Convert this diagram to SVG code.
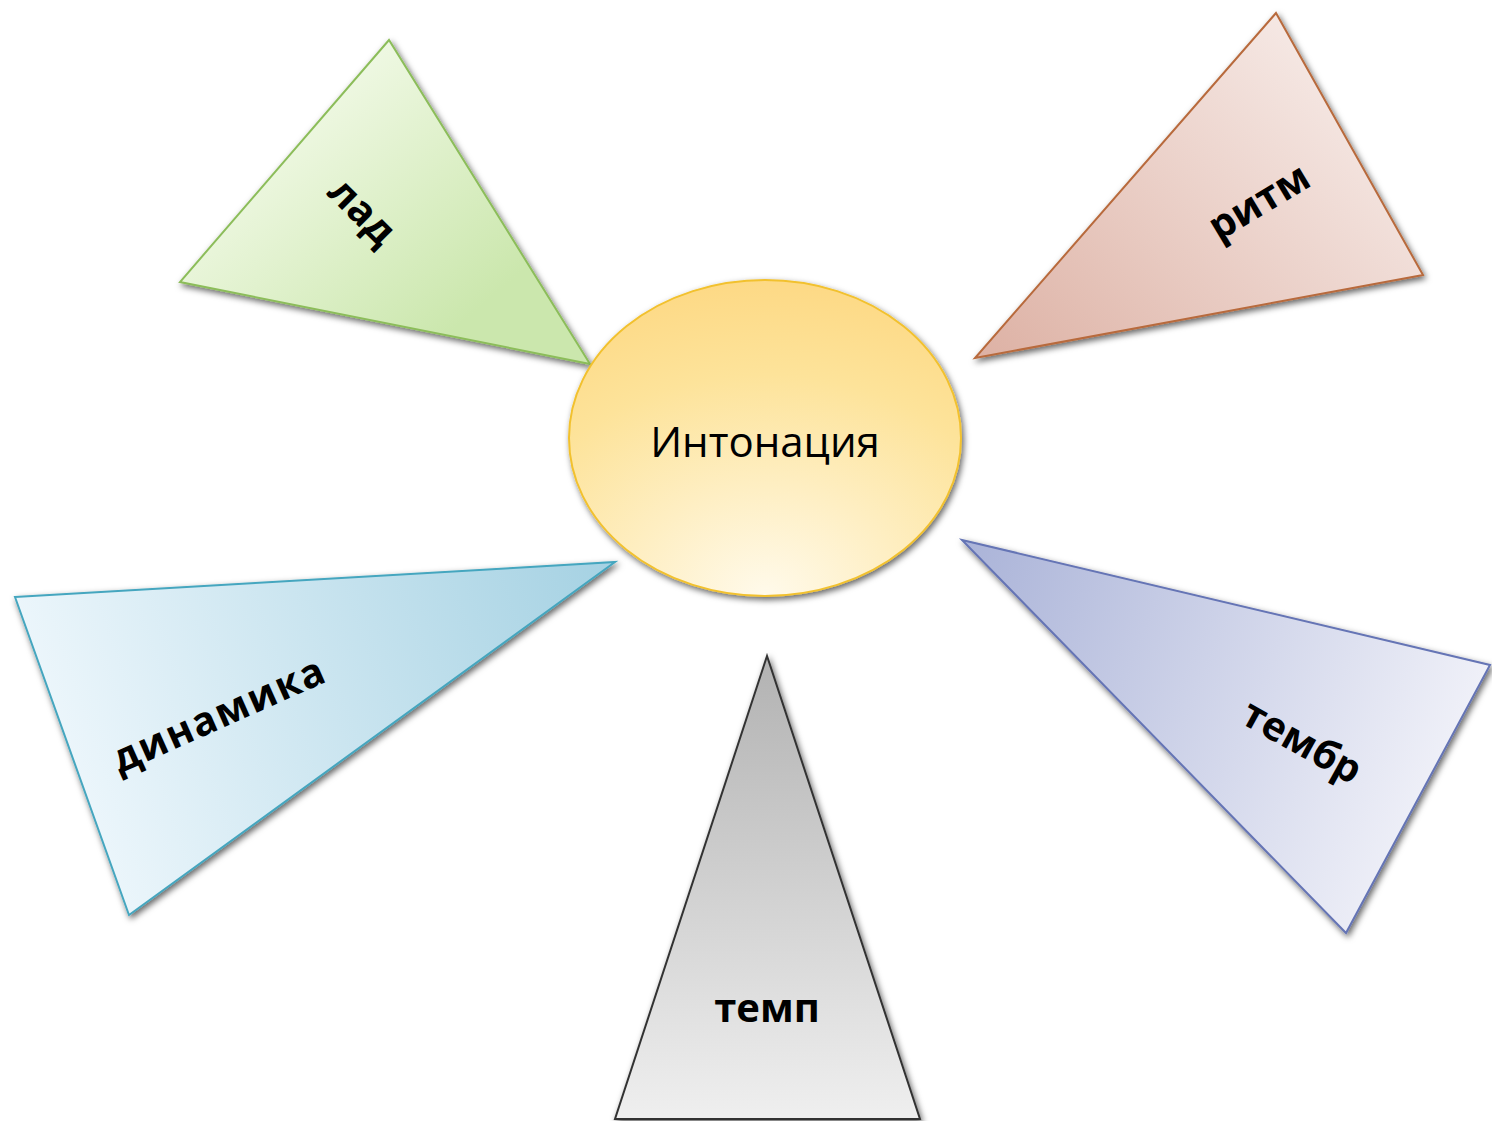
<svg xmlns="http://www.w3.org/2000/svg" width="1492" height="1121" viewBox="0 0 1492 1121">
<style>
.lbl{font-family:"Open Sans","Noto Sans","DejaVu Sans",sans-serif;font-weight:bold;font-size:40px;fill:#000;text-anchor:middle;dominant-baseline:central}
.ctr{font-family:"Open Sans","Noto Sans","DejaVu Sans",sans-serif;font-size:42px;fill:#000;text-anchor:middle;dominant-baseline:central}
.shape{filter:url(#sh);stroke-width:2;stroke-linejoin:miter}
</style>
<defs>
<filter id="sh" x="-20%" y="-20%" width="140%" height="140%">
<feDropShadow dx="2" dy="3" stdDeviation="3" flood-color="#000" flood-opacity="0.6"/>
</filter>
<linearGradient id="gGreen" x1="0.2" y1="0.2" x2="0.8" y2="0.75"><stop offset="0" stop-color="#f3fae9"/><stop offset="1" stop-color="#cbe7ad"/></linearGradient>
<linearGradient id="gRed" x1="0" y1="1" x2="1" y2="0.2"><stop offset="0" stop-color="#ddb1a4"/><stop offset="1" stop-color="#f8eeeb"/></linearGradient>
<linearGradient id="gBlue" x1="0" y1="0.3" x2="1" y2="0.1"><stop offset="0" stop-color="#eef7fc"/><stop offset="1" stop-color="#a6d2e3"/></linearGradient>
<linearGradient id="gPurple" x1="0" y1="0" x2="1" y2="0.3"><stop offset="0" stop-color="#aab3d8"/><stop offset="1" stop-color="#eff0f8"/></linearGradient>
<linearGradient id="gGrey" x1="0" y1="0" x2="0" y2="1"><stop offset="0" stop-color="#b2b2b2"/><stop offset="1" stop-color="#efefef"/></linearGradient>
<radialGradient id="gYellow" cx="0.5" cy="1" r="1" fx="0.5" fy="1"><stop offset="0" stop-color="#fffaeb"/><stop offset="0.7" stop-color="#fde39a"/><stop offset="1" stop-color="#fdd985"/></radialGradient>
</defs>
<rect width="1492" height="1121" fill="#fff"/>
<g id="connectors"></g>
<g id="lad">
<polygon class="shape" points="389,40 180,282 590,364" fill="url(#gGreen)" stroke="#8cbd5a"/>
<text class="lbl" transform="translate(364,210) rotate(45)">лад</text>
</g>
<g id="ritm">
<polygon class="shape" points="1276,13 975,358 1423,275" fill="url(#gRed)" stroke="#b86a3c"/>
<text class="lbl" transform="translate(1258,200) rotate(-31)">ритм</text>
</g>
<g id="dinamika">
<polygon class="shape" points="15,597 615,562 129,915" fill="url(#gBlue)" stroke="#45a6bf"/>
<text class="lbl" style="letter-spacing:1.5px" transform="translate(218,713) rotate(-24)">динамика</text>
</g>
<g id="tembr">
<polygon class="shape" points="962,540 1490,665 1346,933" fill="url(#gPurple)" stroke="#6574b5"/>
<text class="lbl" transform="translate(1303,740) rotate(29)">тембр</text>
</g>
<g id="temp">
<polygon class="shape" points="767,656 615,1119 920,1119" fill="url(#gGrey)" stroke="#333"/>
<text class="lbl" x="767" y="1006">темп</text>
</g>
<g id="intonatsiya">
<ellipse class="shape" cx="765" cy="438" rx="196" ry="158" fill="url(#gYellow)" stroke="#f2c12e"/>
<text class="ctr" x="765" y="440">Интонация</text>
</g>
</svg>
